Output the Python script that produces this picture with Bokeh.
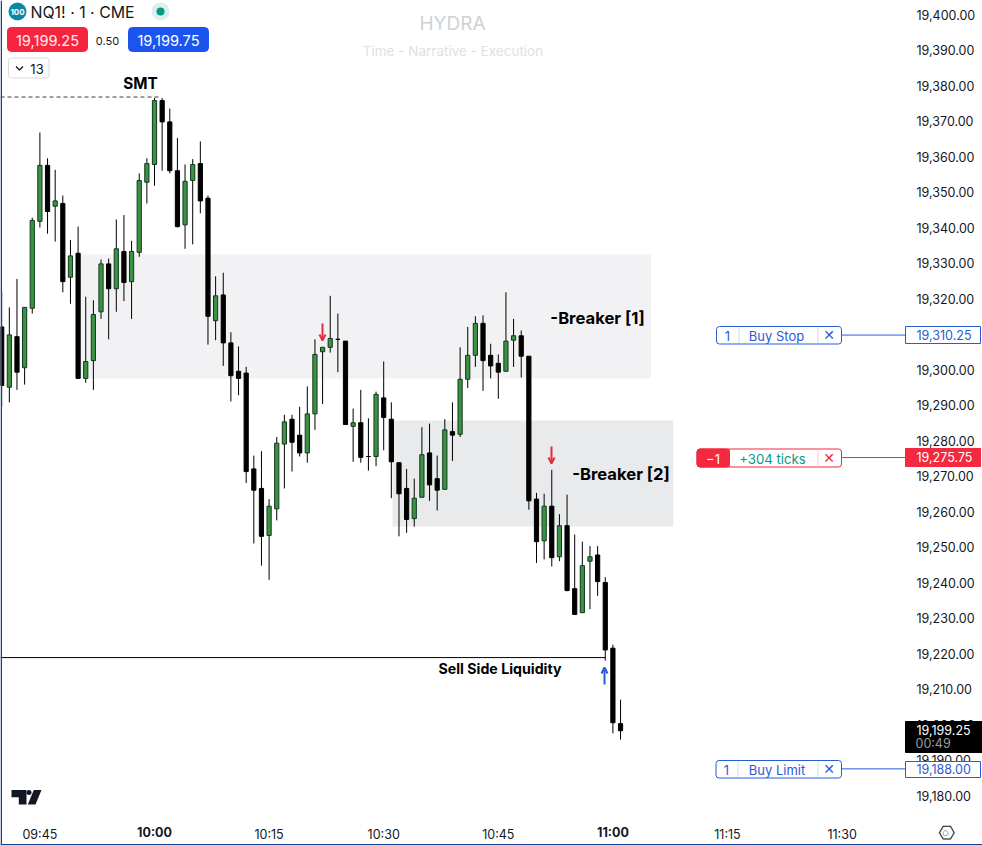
from bokeh.plotting import figure
from bokeh.models import (Range1d, LinearAxis, FixedTicker, NumeralTickFormatter, Label,
                          BoxAnnotation, Arrow, OpenHead, ColumnDataSource)
from bokeh.embed import file_html
from bokeh.resources import INLINE

# ---- data (prices; minutes since midnight) ----
first_minute = 580
opens = [19312,19295,19309.25,19300.5,19317.25,19341.75,19357.5,19346,19346.75,19326,19332.75,19297.5,19302.5,19316.25,19329.75,19322.75,19333.25,19324.75,19333,19352.75,19357.75,
 19375.75,19369.75,19356,19340.75,19353.25,19358,19348.25,19313.75,19321,19307.5,19299.5,19299,19272,19266.5,19253.25,19260.75,19279,19286,19281.5,19276.5,19287.5,19305,19306.25,19308.5,19308,
 19284,19285,19275.5,19275.5,19292,19286,19273.75,19266.5,19258,19264,19276.5,19269.25,19266.25,19282.5,19281.75,19297.25,19304,19313,19304,19301.75,19299.5,19308.25,19309.5,19303.75,
 19263.5,19251.75,19261.5,19247.25,19256,19238.25,19231.5,19246,19247.75,19240,19221.5,19200.25]
highs = [19322,19317.5,19325.5,19317.5,19342.75,19366.75,19359.5,19356.25,19349,19336.5,19340.25,19320.5,19319.5,19331,19331.25,19342.25,19343.5,19336.25,19355.25,19359.5,19376.5,
 19376.5,19373.5,19365.25,19357.75,19359.25,19364.25,19349,19326.25,19327.25,19310.5,19306.5,19300.75,19275.75,19277,19263.5,19281,19287.25,19287.25,19289.5,19295.25,19308.5,19306.25,19320.75,19315.75,19308,
 19289,19294.25,19286.25,19293.75,19302.25,19290.75,19273.75,19272,19269.25,19283.75,19284.75,19275.75,19286,19290.75,19306.25,19312,19315,19315.25,19307.25,19304.25,19321.75,19314.25,19311,19303.75,
 19265.25,19265,19271.75,19259.25,19264.75,19253.5,19251.5,19250.25,19250.25,19241.5,19222.5,19207]
lows = [19289.5,19290.75,19294.25,19295.75,19315.75,19340,19338.25,19336,19321.75,19318.5,19297.5,19296.25,19294.25,19314.25,19308.5,19316.25,19319.25,19314.25,19331.75,19346.75,19351.75,
 19356,19355.25,19340,19334,19335.25,19344,19307,19308.25,19301,19291,19292.75,19268,19251,19244.75,19240.75,19257.5,19266.5,19271.25,19275.5,19273.75,19283,19290.25,19304.75,19299.25,19284.5,
 19274,19273.75,19271.5,19272.75,19277.25,19263.75,19253,19254,19255.75,19264,19263,19260.25,19266.25,19274.25,19281,19294.75,19300.75,19294,19297.5,19291.75,19299.5,19300.75,19297.75,19260.5,
 19245.5,19246.5,19244.5,19246,19237.5,19231,19231.5,19232.5,19236.25,19218,19197.5,19195.75]
closes = [19295.5,19309.75,19299.25,19317.5,19342,19357.5,19344.5,19347.5,19324.75,19332,19297.5,19302.25,19315.5,19329.75,19322.75,19334,19324.5,19333.25,19353.25,19358,19375.75,
 19369.75,19356,19340.25,19353,19357.75,19347.5,19315,19320.75,19307.5,19298.25,19297.5,19271.25,19266,19253,19261.5,19279.25,19285.25,19279.5,19276.5,19287.5,19304.25,19306.25,19308.75,19308.5,19284.5,
 19285,19275.25,19275.5,19293,19286.5,19274,19265,19257.75,19263.75,19276,19267.5,19266,19283,19281.5,19297.25,19304,19313,19302.5,19301,19299.25,19308,19309.5,19303.75,19263,
 19251.5,19261.5,19247,19256,19237.75,19231,19244.75,19247.25,19240.25,19221,19200.5,19198.25]

price_ticks = [19180,19190,19200,19210,19220,19230,19240,19250,19260,19270,19280,19290,19300,19310,19320,19330,19340,19350,19360,19370,19380,19390,19400]
time_ticks = [585,600,615,630,645,660,675,690]
time_labels = ["09:45","10:00","10:15","10:30","10:45","11:00","11:15","11:30"]
bold_times = ["10:00","11:00"]

breaker1 = dict(t0=590.3, t1=665.0, low=19297.5, high=19332.4)
breaker2 = dict(t0=631.15, t1=667.9, low=19255.75, high=19285.6)
smt_level, smt_end = 19376.75, 600.9
ssl_level, ssl_end = 19218.85, 659.0
order_lines = [19309.7, 19275.2, 19187.5]
order_texts = ["19,310.25", "19,275.75", "19,188.00"]

GREEN, DARK, BLUE, RED, INK = "#3d9142", "#0f3a1c", "#2a5bd7", "#f2293f", "#131722"

# ---- geometry ----
FW, FH = 982, 845
PXM, PYP = 7.64, 3.55
t_start = 585 - 39.4 / PXM
p_top = 19400 + 14 / PYP
def X(px): return t_start + px / PXM
def Y(py): return p_top - py / PYP

p = figure(width=FW, height=FH, frame_width=FW, frame_height=FH, output_backend="svg",
           toolbar_location=None, x_axis_type=None, y_axis_type=None,
           x_range=Range1d(X(0), X(FW)), y_range=Range1d(Y(FH), Y(0)),
           min_border_left=0, min_border_top=0, min_border_right=0, min_border_bottom=0,
           outline_line_color=None, margin=(0, 0, 0, 0))
p.grid.visible = False

ya = LinearAxis(ticker=FixedTicker(ticks=price_ticks), formatter=NumeralTickFormatter(format="0,0.00"))
xa = LinearAxis(ticker=FixedTicker(ticks=time_ticks),
                major_label_overrides={t: ("" if l in bold_times else l) for t, l in zip(time_ticks, time_labels)})
for a in (ya, xa):
    a.axis_line_color = None
    a.major_tick_line_color = None
    a.minor_tick_line_color = None
    a.major_tick_out = 0
    a.major_tick_in = 0
    a.major_label_text_font = "Inter"
    a.major_label_text_color = INK
ya.major_label_text_font_size = "12.5px"
xa.major_label_text_font_size = "12.5px"
ya.major_label_standoff = -66
xa.major_label_standoff = -19
p.add_layout(ya, "right")
p.add_layout(xa, "below")

# zones
for b, col in ((breaker1, "#f2f2f4"), (breaker2, "#e9eaec")):
    p.quad(left=b["t0"], right=b["t1"], bottom=b["low"], top=b["high"], fill_color=col, line_color=None)

def lab(px, py, text, size, color=INK, style="normal", align="left", baseline="middle", font="Inter", angle=0):
    p.add_layout(Label(x=px, y=py, x_units="canvas", y_units="canvas", text=text, text_font=font, text_font_size=f"{size}px",
                       text_color=color, text_font_style=style, text_align=align,
                       text_baseline=baseline, angle=angle, angle_units="deg"))
def box(x0, y0, x1, y1, fill="white", line=None, radius=0):
    p.add_layout(BoxAnnotation(left=x0, right=x1, top=y0, bottom=y1, left_units="canvas", right_units="canvas",
                               top_units="canvas", bottom_units="canvas", fill_color=fill, fill_alpha=1,
                               line_color=line, line_alpha=1, line_width=1, border_radius=radius, editable=False))

lab(452, 22.5, "HYDRA", 19, "#cfd1d5", align="center")
lab(452.5, 50.5, "Time - Narrative - Execution", 13.5, "#e0e1e4", align="center")

# candles
minutes = [first_minute + i for i in range(len(opens))]
src = ColumnDataSource(dict(t=minutes, o=opens, h=highs, l=lows, c=closes,
    fill=[GREEN if c > o else "#000000" for o, c in zip(opens, closes)],
    edge=[DARK if c > o else "#000000" for o, c in zip(opens, closes)]))
p.segment(x0="t", x1="t", y0="l", y1="h", source=src, line_color="#000000", line_width=1)
p.vbar(x="t", width=0.55, bottom="o", top="c", source=src, fill_color="fill", line_color="edge", line_width=1)

# levels
p.segment(x0=X(0), x1=smt_end, y0=smt_level, y1=smt_level, line_color="#3a3a3a", line_width=1, line_dash="4 3")
p.segment(x0=X(0), x1=ssl_end, y0=ssl_level, y1=ssl_level, line_color="#000000", line_width=1)
lab(140, 83, "SMT", 15.3, "#000000", "bold", "center")
lab(499.5, 667.5, "Sell Side Liquidity", 14.2, "#000000", "bold", "center")
lab(597, 317, "-Breaker [1]", 16.6, "#000000", "bold", "center")
lab(620.5, 473, "-Breaker [2]", 16.6, "#000000", "bold", "center")

# arrows
for px, a, b, col in ((322, 323, 340, "#e0314b"), (551, 446, 463, "#e8283f"), (604, 684, 667, "#2a5bd7")):
    p.add_layout(Arrow(x_start=X(px), x_end=X(px), y_start=Y(a), y_end=Y(b), line_color=col, line_width=2,
                       end=OpenHead(size=6, line_color=col, line_width=2)))

# order lines
for lv, col in zip(order_lines, (BLUE, RED, BLUE)):
    p.segment(x0=X(841), x1=X(905), y0=lv, y1=lv, line_color=col, line_width=1)

# order widgets
def sep(px, y0, y1, col):
    box(px, y0, px + 1, y1, col, None)
def order(x0, y0, y1, qty, name, qty_x, name_x):
    box(x0, y0, 841, y1, "white", BLUE, 3)
    sep(qty_x + 11, y0 + 1, y1 - 1, "#cdd9f5")
    sep(817, y0 + 1, y1 - 1, "#cdd9f5")
    lab(qty_x, (y0 + y1) / 2 + .5, qty, 13, BLUE, align="center")
    lab(name_x, (y0 + y1) / 2 + .5, name, 13, BLUE, align="center")
    lab(828.5, (y0 + y1) / 2, "✕", 14, BLUE, "bold", "center", font="DejaVu Sans")
order(716, 326, 343.5, "1", "Buy Stop", 727, 776)
order(715.5, 760, 777.5, "1", "Buy Limit", 726, 776.5)

box(696.5, 448.5, 841, 466.5, "white", RED, 3)
box(696.5, 448.5, 729, 466.5, RED, RED, 3)
box(724, 448.5, 729, 466.5, RED, None)
sep(817, 449, 466, "#f8ccd2")
lab(712.5, 458, "−1", 13, "white", align="center")
lab(772, 458, "+304 ticks", 13.2, "#089981", align="center")
lab(828.5, 457.5, "✕", 14, RED, "bold", "center", font="DejaVu Sans")

# price tags on the axis
for (y0, y1), txt, fill, line, col in (((326, 343), order_texts[0], "white", BLUE, BLUE),
                                       ((448, 466), order_texts[1], RED, RED, "white"),
                                       ((761, 777), order_texts[2], "white", BLUE, BLUE)):
    box(905, y0, 980, y1, fill, line)
    lab(916, (y0 + y1) / 2 - .5, txt, 12.5, col)
box(905, 721, 982, 752, "#000000", "#000000")
lab(916, 729, "19,199.25", 12.5, "white")
lab(915, 743, "00:49", 12.5, "#9b9b9b")

# bold session ticks
for t, l in zip(time_ticks, time_labels):
    if l in bold_times:
        lab(154 + (t - 600) * PXM, 832, l, 12.5, INK, "bold", "center")

# header
p.scatter(x=[X(17)], y=[Y(11)], size=18, fill_color="#0b86a5", line_color=None)
lab(17, 11, "100", 8, "white", "bold", "center")
lab(30, 12, "NQ1! · 1 · CME", 15.9, INK)
p.scatter(x=[X(160)], y=[Y(11)], size=18, fill_color="#dcefec", line_color=None)
p.scatter(x=[X(160)], y=[Y(11)], size=8, fill_color="#089981", line_color=None)
box(7, 27, 87, 51, "#f5253f", "#f5253f", 4)
lab(47, 39.5, "19,199.25", 14.6, "#ffe9ec", align="center")
lab(107, 40, "0.50", 11, INK, align="center")
box(128, 27, 208, 51, "#1c55ee", "#1c55ee", 4)
lab(168, 39.5, "19,199.75", 14.6, "#ffffff", align="center")
box(8, 57.5, 48.5, 77.5, "white", "#d9dadd", 3)
p.line(x=[X(15.5), X(19), X(22.5)], y=[Y(66), Y(69.5), Y(66)], line_color=INK, line_width=1.3, level="overlay")
lab(36.5, 68, "13", 13, INK, align="center")

# logo
p.patch(x=[X(11), X(26), X(26), X(18.3), X(18.3), X(11)], y=[Y(789.5), Y(789.5), Y(804), Y(804), Y(796.7), Y(796.7)],
        fill_color=INK, line_color=None)
p.patch(x=[X(33.3), X(41), X(35), X(27.3)], y=[Y(789.5), Y(789.5), Y(804), Y(804)], fill_color=INK, line_color=None)
p.scatter(x=[X(28.5)], y=[Y(792)], size=5, fill_color=INK, line_color=None)

# settings icon
lab(945, 832, "⬡", 19, INK, align="center", font="DejaVu Sans", angle=90)
lab(945, 832, "○", 7, INK, align="center", font="DejaVu Sans")

# window edge
box(0, 0, 1.5, 845, "#1f3f8f", None)
box(0, 843.5, 982, 845, "#1f3f8f", None)

open("out.html", "w").write(file_html(p, INLINE))
